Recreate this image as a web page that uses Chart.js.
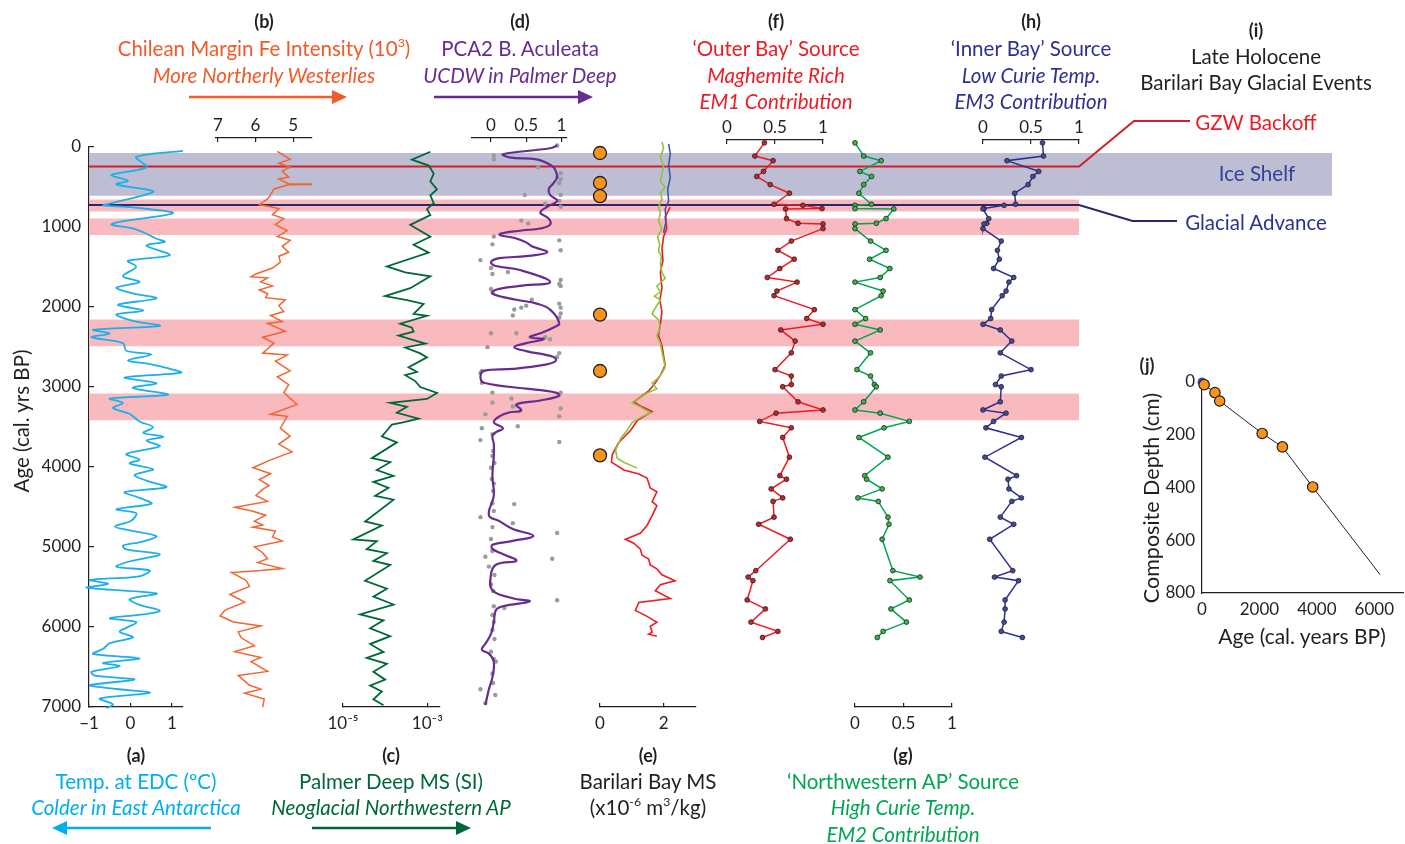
<!DOCTYPE html>
<html lang="en">
<head>
<meta charset="UTF-8">
<title>Late Holocene records - Barilari Bay</title>
<script src="https://cdn.jsdelivr.net/npm/chart.js"></script>
<style>
  html, body { margin: 0; padding: 0; background: #fff; overflow: hidden; }
  #page { position: relative; width: 1405px; height: 844px; font-family: Lato, "Open Sans", sans-serif; color: #231f20; }
  #page canvas { position: absolute; }
  #page svg { position: absolute; left: 0; top: 0; z-index: 3; }
  .t { position: absolute; z-index: 3; transform: translate(-50%, -50%); white-space: nowrap; font-size: 20.5px; line-height: 1; }
  .t.b { font-weight: bold; font-size: 18px; }
  .t.i { font-style: italic; }
  .t.r { transform: translate(-50%, -50%) rotate(-90deg); }
  sup { font-size: 0.6em; line-height: 0; vertical-align: 0.7em; }
</style>
</head>
<body>
<div id="page">
  <svg width="1405" height="844">
    <line x1="189" y1="97" x2="334" y2="97" stroke="#f15a29" stroke-width="2.5"/>
    <polygon points="347,97 332,90 332,104" fill="#f15a29"/>
    <line x1="434" y1="97" x2="580" y2="97" stroke="#662d91" stroke-width="2.5"/>
    <polygon points="593,97 578,90 578,104" fill="#662d91"/>
    <line x1="211" y1="828" x2="65" y2="828" stroke="#00aeef" stroke-width="2.5"/>
    <polygon points="52,828 67,821 67,835" fill="#00aeef"/>
    <line x1="312" y1="828" x2="458" y2="828" stroke="#006838" stroke-width="2.5"/>
    <polygon points="471,828 456,821 456,835" fill="#006838"/>
  </svg>

  <div class="t b" style="left:264px;top:21px">(b)</div>
  <div class="t" style="left:264px;top:48px;color:#f15a29">Chilean Margin Fe Intensity (10<sup>3</sup>)</div>
  <div class="t i" style="left:264px;top:75px;color:#f15a29">More Northerly Westerlies</div>

  <div class="t b" style="left:520px;top:21px">(d)</div>
  <div class="t" style="left:520px;top:48px;color:#662d91">PCA2 B. Aculeata</div>
  <div class="t i" style="left:520px;top:75px;color:#662d91">UCDW in Palmer Deep</div>

  <div class="t b" style="left:776px;top:21px">(f)</div>
  <div class="t" style="left:776px;top:48px;color:#ed1c24">‘Outer Bay’ Source</div>
  <div class="t i" style="left:776px;top:75px;color:#ed1c24">Maghemite Rich</div>
  <div class="t i" style="left:776px;top:101px;color:#ed1c24">EM1 Contribution</div>

  <div class="t b" style="left:1031px;top:21px">(h)</div>
  <div class="t" style="left:1031px;top:48px;color:#2e3192">‘Inner Bay’ Source</div>
  <div class="t i" style="left:1031px;top:75px;color:#2e3192">Low Curie Temp.</div>
  <div class="t i" style="left:1031px;top:101px;color:#2e3192">EM3 Contribution</div>

  <div class="t b" style="left:1256px;top:30px">(i)</div>
  <div class="t" style="left:1256px;top:56px">Late Holocene</div>
  <div class="t" style="left:1256px;top:82px">Barilari Bay Glacial Events</div>
  <div class="t" style="left:1256px;top:122px;color:#ed1c24">GZW Backoff</div>
  <div class="t" style="left:1257px;top:173px;color:#34409a">Ice Shelf</div>
  <div class="t" style="left:1256px;top:222px;color:#2e3192">Glacial Advance</div>

  <div class="t b" style="left:136px;top:755px">(a)</div>
  <div class="t" style="left:136px;top:781px;color:#00aeef">Temp. at EDC (ºC)</div>
  <div class="t i" style="left:136px;top:807px;color:#00aeef">Colder in East Antarctica</div>

  <div class="t b" style="left:391px;top:755px">(c)</div>
  <div class="t" style="left:391px;top:781px;color:#006838">Palmer Deep MS (SI)</div>
  <div class="t i" style="left:391px;top:807px;color:#006838">Neoglacial Northwestern AP</div>

  <div class="t b" style="left:648px;top:755px">(e)</div>
  <div class="t" style="left:648px;top:781px">Barilari Bay MS</div>
  <div class="t" style="left:648px;top:807px">(x10<sup>-6</sup> m<sup>3</sup>/kg)</div>

  <div class="t b" style="left:903px;top:755px">(g)</div>
  <div class="t" style="left:903px;top:781px;color:#00a651">‘Northwestern AP’ Source</div>
  <div class="t i" style="left:903px;top:807px;color:#00a651">High Curie Temp.</div>
  <div class="t i" style="left:903px;top:834px;color:#00a651">EM2 Contribution</div>

  <div class="t r" style="left:21px;top:421px">Age (cal. yrs BP)</div>

  <div class="t b" style="left:1147px;top:365px">(j)</div>
  <div class="t r" style="left:1152px;top:498px;font-size:21.5px">Composite Depth (cm)</div>
  <div class="t" style="left:1302px;top:635px;font-size:21px">Age (cal. years BP)</div>
</div>

<script>
// ---------- values (ages in cal. yrs BP) ----------

// (a) EDC temperature
const tempAge = [48,124,253,349,420,468,554,621,717,731,755,827,936,970,1018,1065,1147,1185,1233,1352,
  1424,1496,1615,1687,1758,1830,1892,1973,2045,2093,2174,2236,2284,2332,2379,2451,2547,2594,2666,2714,
  2762,2819,2881,2953,3010,3096,3144,3201,3263,3335,3431,3502,3574,3622,3669,3741,3837,3908,3956,4028,
  4100,4171,4252,4314,4386,4458,4529,4577,4673,4744,4792,4864,4936,4983,5031,5093,5175,5246,5294,5366,
  5413,5461,5509,5581,5652,5724,5796,5843,5891,5939,6011,6058,6130,6202,6273,6336,6393,6450,6489,6560,
  6608,6656,6728,6775,6823,6895,6966,7014];
const tempC = [1.27,0.14,0.39,-0.46,-0.06,-0.34,0.55,0.18,-0.58,-0.66,0.06,1.03,-0.26,-0.46,0.06,0.31,0.63,0.83,0.39,0.95,
  -0.06,0.14,-0.18,0.22,-0.34,0.06,0.63,-0.30,0.31,-0.34,0.06,0.71,-0.90,-0.50,-0.94,-0.18,-0.10,0.51,-0.06,0.47,
  0.87,1.23,-0.14,0.63,0.06,0.91,-0.50,-0.18,-0.42,-0.02,0.22,0.55,0.31,0.79,0.39,0.71,-0.10,0.22,-0.02,0.55,
  0.10,0.39,0.87,-0.14,0.22,0.51,-0.34,0.14,0.02,-0.38,-0.02,0.63,0.27,-0.18,-0.10,0.71,0.02,-0.34,0.47,0.22,
  -0.98,-0.54,-1.06,0.63,-0.02,0.22,0.71,0.31,-0.50,0.14,-0.10,-0.26,0.06,-0.50,-0.66,-0.90,0.22,-0.66,-0.26,-0.94,
  -0.86,0.10,-0.98,-0.34,0.47,-0.74,-0.42,-0.58];

// (b) Chilean margin Fe intensity (x10^3)
const feAge = [55,154,203,253,302,376,401,450,458,463,468,473,525,599,648,722,747,772,846,895,
  970,1044,1118,1167,1241,1315,1365,1439,1513,1587,1622,1637,1686,1736,1785,1834,1884,1909,1983,2057,
  2106,2181,2205,2304,2378,2452,2576,2601,2675,2798,2873,2971,3070,3219,3342,3367,3515,3614,3713,3812,
  3911,4009,4084,4158,4232,4281,4356,4430,4504,4553,4603,4677,4726,4751,4800,4874,4924,4998,5072,5146,
  5196,5270,5295,5319,5418,5492,5591,5690,5789,5863,5937,5987,6061,6135,6234,6308,6382,6432,6555,6605,
  6728,6777,6827,6901,7000];
const feInt = [5.42,5.08,5.38,5.08,5.29,5.12,5.38,5.16,5.14,4.52,4.52,5.12,5.51,5.60,5.68,5.90,5.60,5.38,5.55,5.25,
  5.47,5.16,5.42,5.08,5.29,5.12,5.38,5.34,5.55,5.99,6.12,5.68,5.86,5.55,5.90,5.68,5.73,5.21,5.38,5.25,
  5.60,5.29,5.68,5.21,5.81,5.51,5.81,5.16,5.47,5.08,5.42,5.12,5.25,4.90,5.60,5.16,5.34,5.08,5.38,5.03,
  5.60,6.07,5.60,5.90,5.64,5.81,5.99,5.68,6.55,6.07,5.73,6.03,5.81,6.07,5.47,5.55,5.29,6.03,5.81,5.68,
  5.94,5.29,5.86,6.64,6.25,6.16,6.68,6.29,6.81,6.94,6.59,5.86,6.46,6.38,6.03,6.55,5.86,6.12,5.68,6.46,
  6.16,5.86,6.29,5.77,5.81];

// (c) Palmer Deep magnetic susceptibility (SI)
const msAge = [59,158,232,331,430,529,603,702,776,850,974,1048,1122,1221,1320,1493,1567,1616,1691,1765,
  1864,1913,1962,2086,2111,2209,2259,2308,2358,2457,2506,2580,2630,2753,2813,2852,2926,3000,3075,3149,
  3198,3248,3322,3396,3445,3470,3544,3618,3692,3890,3940,4038,4112,4187,4261,4360,4409,4681,4731,4904,
  4928,5027,5077,5175,5225,5423,5521,5620,5719,5843,5917,6016,6115,6213,6312,6386,6461,6560,6658,6732,
  6806,6905,6979];
const msPD = [1.18e-3,4.32e-4,1.08e-3,1.42e-3,1.18e-3,1.70e-3,1.18e-3,1.42e-3,9.82e-4,1.18e-3,
  3.94e-4,6.81e-4,1.18e-3,4.73e-4,1.08e-3,1.10e-4,2.99e-4,1.18e-3,6.81e-4,3.94e-4,
  1.00e-4,3.28e-4,8.18e-4,4.73e-4,9.82e-4,2.28e-4,4.32e-4,4.73e-4,2.08e-4,8.96e-4,
  2.99e-4,6.81e-4,9.82e-4,3.59e-4,5.68e-4,2.99e-4,5.18e-4,6.81e-4,1.70e-3,9.82e-4,
  1.32e-4,3.28e-4,1.90e-4,6.22e-4,2.49e-4,1.44e-4,1.10e-4,8.34e-5,1.90e-4,4.82e-5,
  1.32e-4,6.34e-5,1.58e-4,5.27e-5,1.20e-4,5.78e-5,1.58e-4,3.34e-5,8.34e-5,1.76e-5,
  6.34e-5,3.66e-5,1.10e-4,5.27e-5,1.32e-4,3.34e-5,1.10e-4,5.27e-5,1.58e-4,2.54e-5,
  9.13e-5,4.40e-5,1.32e-4,4.40e-5,9.13e-5,3.66e-5,1.10e-4,5.27e-5,1.00e-4,4.40e-5,
  8.34e-5,5.27e-5,9.13e-5];

// (d) PCA2 B. aculeata: smoothed curve and samples
const pcaAge = [-19,16,90,129,154,203,253,302,376,450,525,599,673,747,821,895,970,1019,1044,1093,
  1143,1192,1241,1315,1365,1390,1439,1488,1538,1686,1736,1785,1834,1909,1958,2032,2205,2255,2329,2378,
  2403,2452,2502,2551,2625,2675,2724,2774,2798,2873,2947,3021,3070,3110,3169,3219,3293,3318,3367,3441,
  3515,3565,3614,3713,3861,4108,4356,4603,4677,4776,4860,4924,4973,5023,5097,5171,5221,5344,5542,5641,
  5680,5740,5789,5937,6086,6209,6283,6333,6432,6629,6778,6976];
const pca2 = [0.94,0.84,0.17,0.26,0.65,0.80,0.89,0.92,0.94,0.89,0.82,0.84,0.94,0.80,0.70,0.82,0.84,0.70,0.43,0.12,
  0.36,0.50,0.58,0.80,0.50,0.12,0.00,0.07,0.41,0.84,0.41,0.07,0.02,0.36,0.65,0.84,0.97,0.89,0.70,0.55,
  0.75,0.50,0.33,0.50,0.89,0.92,0.75,0.31,-0.10,-0.15,-0.10,0.50,0.92,0.97,0.70,0.36,0.43,0.26,0.12,0.04,
  0.17,0.07,0.02,0.04,0.04,0.02,0.04,-0.03,0.12,0.31,0.60,0.31,0.02,0.02,0.19,0.36,0.07,0.00,0.02,0.31,
  0.55,0.17,0.07,0.04,0.00,-0.08,-0.13,-0.03,0.04,0.02,-0.03,-0.08];
const pcaDotAge = [-19,105,154,253,327,376,401,450,599,599,673,708,747,920,955,1118,1217,1167,1291,1414,
  1513,1587,1563,1662,1711,1736,1775,1810,1909,1983,2008,2032,2106,1958,2008,2082,2131,2329,2329,2502,
  2378,2403,2576,2625,2798,2823,2947,3070,3194,3342,3144,3243,3490,3070,3268,3367,3515,3664,3589,3688,
  3861,4009,4207,4454,4464,4627,4751,4825,4702,5122,5146,5245,5468,5665,5740,5764,5937,6036,6308,6432,
  6580,6778,6951,3800,3950,4150,4300,4550,4900,5050,5350,5550,5850,6150,6400,6700,6850];
const pcaDot = [0.94,0.04,0.04,0.67,0.99,0.94,0.99,0.97,0.48,0.99,0.97,0.77,0.99,0.43,0.53,0.04,0.02,0.97,0.99,-0.15,
  0.00,0.02,0.24,0.99,0.97,0.99,0.00,0.02,0.58,0.50,0.43,0.33,0.31,0.97,0.99,0.99,0.97,0.00,0.36,-0.05,
  0.77,0.84,0.97,0.94,-0.13,-0.15,-0.13,0.02,0.02,-0.08,0.29,0.31,0.38,0.99,0.99,0.97,-0.13,-0.15,0.02,0.97,
  0.02,0.00,0.04,0.02,0.33,-0.15,0.02,0.94,0.31,-0.08,0.87,-0.03,0.00,0.94,0.04,0.19,0.04,0.02,0.00,0.07,
  0.02,-0.15,-0.08,0.03,0.05,0.01,0.03,0.04,0.00,0.02,0.05,0.03,0.02,0.05,0.04,0.03,0.06];

// (e) Barilari Bay MS (x10^-6 m3/kg), three cores, and radiocarbon dates
const bbBlueAge = [-39,84,232,381,529,677,776,924,1073];
const bbBlue = [2.16,2.21,2.16,2.21,2.13,2.16,2.05,2.08,2.00];
const bbGreenAge = [-64,10,134,232,331,430,504,578,652,751,826,924,1023,1122,1221,1295,1369,1468,1567,1641,
  1740,1814,1864,1913,2012,2086,2160,2259,2358,2457,2556,2654,2753,2827,2902,2951,3025,3075,3174,3198,
  3248,3322,3371,3445,3544,3643,3791,3890,3940,4014];
const bbGreen = [1.95,2.00,1.90,2.00,1.95,1.90,2.05,1.90,1.95,1.84,1.90,1.84,1.95,1.81,1.88,1.84,1.93,1.90,1.95,2.05,
  1.79,1.90,1.71,1.90,1.74,1.64,1.84,1.90,1.79,1.90,1.95,2.00,2.05,1.95,1.79,1.64,1.79,1.48,1.11,1.01,
  1.27,1.58,1.32,1.01,0.85,0.65,0.49,0.54,0.75,1.17];
const bbRedAge = [751,875,1023,1122,1270,1419,1567,1765,1913,2061,2209,2358,2481,2605,2729,2852,2951,3050,3188,3248,
  3307,3346,3421,3544,3692,3841,3940,4038,4088,4137,4261,4310,4434,4483,4607,4731,4829,4904,4953,5027,
  5101,5151,5225,5274,5348,5423,5472,5546,5645,5694,5793,5867,5917,5941,5991,6065,6090,6115];
const bbRed = [2.21,2.05,2.10,2.00,1.95,1.98,1.90,1.95,1.88,1.95,1.90,1.84,1.95,2.00,2.05,1.90,1.74,1.53,1.06,1.32,
  1.64,1.48,1.17,0.96,0.59,0.39,0.36,0.75,1.22,1.48,1.58,1.79,1.64,1.79,1.64,1.48,1.27,0.80,1.06,1.27,
  1.32,1.53,1.58,1.79,1.95,2.36,1.90,1.74,2.21,1.22,1.11,1.48,1.69,1.79,1.58,1.64,1.53,1.79];
const dateAge = [75,450,615,2095,2800,3855];
const dateMark = [0,0,0,0,0,0];
const dateDepth = [10,40,72,195,246,398];

// (f)(g)(h) end-member contributions, one sample set
const emAge = [-52,113,171,305,368,470,578,716,729,770,774,895,953,962,1020,1176,1292,1403,1519,1631,
  1689,1801,1859,2033,2144,2216,2287,2426,2573,2783,2863,2970,2997,3185,3287,3327,3430,3510,3631,3877,
  4109,4153,4274,4386,4430,4627,4716,4903,5296,5376,5421,5662,5774,5939,6055,6131];
const em1 = [0.39,0.29,0.48,0.38,0.31,0.45,0.65,0.49,0.79,0.99,0.61,0.62,0.74,1.00,1.00,0.67,0.53,0.70,0.55,0.42,
  0.73,0.52,0.49,0.91,0.83,1.00,0.56,0.71,0.67,0.50,0.67,0.67,0.58,0.74,1.00,0.51,0.34,0.67,0.58,0.65,
  0.55,0.62,0.46,0.58,0.48,0.49,0.33,0.66,0.30,0.22,0.27,0.21,0.40,0.25,0.53,0.37];
const em2 = [0.00,0.09,0.27,0.05,0.17,0.09,0.04,0.17,0.00,0.00,0.40,0.32,0.22,0.00,0.00,0.16,0.32,0.15,0.36,0.26,
  0.00,0.29,0.27,0.00,0.11,0.00,0.26,0.00,0.16,0.02,0.16,0.20,0.22,0.09,0.00,0.26,0.56,0.30,0.04,0.34,
  0.10,0.12,0.28,0.03,0.24,0.34,0.35,0.28,0.39,0.67,0.36,0.56,0.37,0.53,0.29,0.23];
const em3 = [0.62,0.63,0.25,0.58,0.52,0.47,0.33,0.34,0.22,0.01,0.00,0.06,0.04,0.01,0.00,0.19,0.15,0.17,0.11,0.32,
  0.27,0.24,0.20,0.09,0.08,0.00,0.18,0.30,0.18,0.50,0.19,0.13,0.19,0.18,0.00,0.24,0.11,0.03,0.40,0.02,
  0.35,0.26,0.27,0.40,0.30,0.18,0.32,0.07,0.31,0.12,0.37,0.23,0.23,0.22,0.19,0.41];

// (i) glacial events
const iceShelf = [75, 610];
const pinkBands = [[655, 805], [895, 1100], [2155, 2490], [3080, 3415]];
const gzwAge = 245, advanceAge = 725;

// (j) age model line
const modelAge = [0, 75, 450, 615, 2095, 2800, 3855, 6200];
const modelDepth = [0, 10, 40, 72, 195, 246, 398, 730];

// tick values
const ageTicks = [0, 1000, 2000, 3000, 4000, 5000, 6000, 7000];
const tempTicks = [-1, 0, 1];
const feTicks = [7, 6, 5];
const msTicks = [1e-5, 1e-3];
const unitTicks = [0, 0.5, 1];
const bbTicks = [0, 2];
const jAgeTicks = [0, 2000, 4000, 6000];
const jDepthTicks = [0, 200, 400, 600, 800];

// ---------- layout ----------
const INK = '#231f20';
const FONT = 'Lato';
const PX0 = 147, PX1 = 707;           // page y of age 0 and age 7000
const ageAt = px => (px - PX0) * 7000 / (PX1 - PX0);
const PAD = 16, AXH = 26;
const page = document.getElementById('page');

const fmtNum = v => (v < 0 ? '\u2212' + Math.abs(v) : String(v));
const SUP = { '-': '\u207b', '0': '\u2070', '1': '\u00b9', '2': '\u00b2', '3': '\u00b3', '4': '\u2074', '5': '\u2075' };
const fmtPow = v => '10' + String(Math.round(Math.log10(v))).split('').map(ch => SUP[ch]).join('');

function addCanvas(left, top, width, height) {
    var c = document.createElement('canvas');
    c.width = width; c.height = height;
    c.style.left = left + 'px'; c.style.top = top + 'px';
    c.style.width = width + 'px'; c.style.height = height + 'px';
    page.appendChild(c);
    return c.getContext('2d');
}

function pts(xs, ys) {
    return xs.map(function(x, i) { return { x: x, y: ys[i] }; });
}

function trace(xs, ys, color, width, more) {
    return Object.assign({
        data: pts(xs, ys), showLine: true, borderColor: color, backgroundColor: color,
        borderWidth: width, pointRadius: 0, tension: 0, clip: false
    }, more || {});
}

function dots(xs, ys, fill, radius, more) {
    return Object.assign({
        data: pts(xs, ys), showLine: false, pointRadius: radius, pointBackgroundColor: fill,
        pointBorderColor: fill, pointBorderWidth: 0, clip: false
    }, more || {});
}

const quiet = { legend: { display: false }, tooltip: { enabled: false } };

// one stacked panel: own x axis, shared age axis (hidden)
function panel(p) {
    var onTop = p.side === 'top';
    var ctx = addCanvas(p.left - PAD, p.top - PAD - (onTop ? AXH : 0),
        p.right - p.left + 2 * PAD, p.bottom - p.top + AXH + 2 * PAD);
    return new Chart(ctx, {
        type: 'scatter',
        data: { datasets: p.datasets },
        options: {
            responsive: false, animation: false, events: [],
            layout: { autoPadding: false, padding: PAD },
            plugins: quiet,
            scales: {
                x: {
                    type: p.type || 'linear', position: p.side, min: p.min, max: p.max, reverse: !!p.reverse,
                    border: { color: INK, width: 1.2 },
                    grid: { drawOnChartArea: false, color: INK, lineWidth: 1.2, tickLength: -4 },
                    ticks: {
                        color: INK, font: { family: FONT, size: 17 }, padding: onTop ? 6 : 10,
                        autoSkip: false, maxRotation: 0, callback: p.fmt || fmtNum
                    },
                    afterBuildTicks: function(s) { s.ticks = p.ticks.map(function(v) { return { value: v }; }); },
                    afterFit: function(s) { s.height = AXH; s.paddingLeft = 0; s.paddingRight = 0; }
                },
                y: { type: 'linear', display: false, reverse: true, min: ageAt(p.top), max: ageAt(p.bottom) }
            }
        }
    });
}

// ---------- background: age axis, event bands and callouts ----------
const PINK_END = 79.65;   // bands stop under panel (h); ice shelf runs to the label column
function hband(range, xEnd, color) {
    return {
        data: [{ x: 0, y: range[0] }, { x: xEnd, y: range[0] }], fill: { value: range[1] },
        backgroundColor: color, borderColor: 'rgba(0,0,0,0)', borderWidth: 0, pointRadius: 0, clip: false
    };
}
const gzwLine = {
    data: [{ x: 0, y: gzwAge }, { x: PINK_END, y: gzwAge }, { x: 84.07, y: -325 }, { x: 88.58, y: -325 }],
    borderColor: '#d0202e', borderWidth: 2, pointRadius: 0, fill: false, clip: false
};
const advanceLine = {
    data: [{ x: 0, y: advanceAge }, { x: PINK_END, y: advanceAge }, { x: 83.95, y: 925 }, { x: 87.53, y: 925 }],
    borderColor: '#28286c', borderWidth: 2, pointRadius: 0, fill: false, clip: false
};

new Chart(addCanvas(0, 0, 1405, 844), {
    type: 'line',
    data: {
        datasets: [gzwLine, advanceLine]
            .concat(pinkBands.map(function(b) { return hband(b, PINK_END, '#f8b9bf'); }))
            .concat([hband(iceShelf, 100, '#bdbdd3')])
    },
    options: {
        responsive: false, animation: false, events: [],
        layout: { autoPadding: false, padding: { left: 0, top: PX0, right: 1405 - 1332, bottom: 844 - PX1 } },
        plugins: quiet,
        scales: {
            x: { type: 'linear', min: 0, max: 100, display: false },
            y: {
                type: 'linear', position: 'left', reverse: true, min: 0, max: 7000,
                border: { color: INK, width: 1.2 },
                grid: { drawOnChartArea: false, color: INK, lineWidth: 1.2, tickLength: -5 },
                ticks: { color: INK, font: { family: FONT, size: 17 }, padding: 13, callback: function(v) { return String(v); } },
                afterBuildTicks: function(s) { s.ticks = ageTicks.map(function(v) { return { value: v }; }); },
                afterFit: function(s) { s.width = 89; s.paddingTop = 0; s.paddingBottom = 0; }
            }
        }
    }
});

// ---------- panels ----------
panel({ left: 89, right: 183, top: 120, bottom: 707, side: 'bottom', min: -1, max: 1.27, ticks: tempTicks,
    datasets: [trace(tempC, tempAge, '#1cafea', 1.8, { tension: 0.3 })] });

panel({ left: 216, right: 312, top: 138, bottom: 720, side: 'top', min: 4.5, max: 7.05, reverse: true, ticks: feTicks,
    datasets: [trace(feInt, feAge, '#f26531', 1.5)] });

panel({ left: 343, right: 440, top: 120, bottom: 707, side: 'bottom', type: 'logarithmic', min: 1e-5, max: 2e-3,
    ticks: msTicks, fmt: fmtPow,
    datasets: [trace(msPD, msAge, '#006838', 1.8)] });

panel({ left: 472, right: 567, top: 138, bottom: 720, side: 'top', min: -0.27, max: 1.08, ticks: unitTicks,
    datasets: [
        trace(pca2, pcaAge, '#662d91', 2.2, { tension: 0.4 }),
        dots(pcaDot, pcaDotAge, '#9b9b9b', 2.2)
    ] });

panel({ left: 600, right: 696, top: 120, bottom: 707, side: 'bottom', min: 0, max: 3.02, ticks: bbTicks,
    datasets: [
        dots(dateMark, dateAge, '#f7941d', 6.5, { pointBorderColor: INK, pointBorderWidth: 1.3 }),
        trace(bbBlue, bbBlueAge, '#3953a4', 1.5),
        trace(bbGreen, bbGreenAge, '#8cc63f', 1.6),
        trace(bbRed, bbRedAge, '#ed1c24', 1.6)
    ] });

const emDot = { pointRadius: 2.4, pointBorderColor: INK, pointBorderWidth: 0.8 };
panel({ left: 727, right: 823, top: 140, bottom: 720, side: 'top', min: 0, max: 1, ticks: unitTicks,
    datasets: [trace(em1, emAge, '#ed1c24', 1.5, Object.assign({ pointBackgroundColor: '#c1272d' }, emDot))] });

panel({ left: 855, right: 952, top: 120, bottom: 707, side: 'bottom', min: 0, max: 1, ticks: unitTicks,
    datasets: [trace(em2, emAge, '#00a651', 1.5, Object.assign({ pointBackgroundColor: '#39b54a' }, emDot))] });

panel({ left: 983, right: 1079, top: 140, bottom: 720, side: 'top', min: 0, max: 1, ticks: unitTicks,
    datasets: [trace(em3, emAge, '#2e3192', 1.5, Object.assign({ pointBackgroundColor: '#3f4ba0' }, emDot))] });

// ---------- (j) age-depth model ----------
const JL = 1202, JR = 1403, JT = 382, JB = 593, JYW = 46;
new Chart(addCanvas(JL - JYW - PAD, JT - PAD, JR - JL + JYW + 2 * PAD, JB - JT + AXH + 2 * PAD), {
    type: 'scatter',
    data: {
        datasets: [
            dots(dateAge, dateDepth, '#f7941d', 5.2, { pointBorderColor: INK, pointBorderWidth: 1.2 }),
            dots([0], [0], '#3953a4', 4.5),
            trace(modelAge, modelDepth, INK, 1)
        ]
    },
    options: {
        responsive: false, animation: false, events: [],
        layout: { autoPadding: false, padding: PAD },
        plugins: quiet,
        scales: {
            x: {
                type: 'linear', min: 0, max: 7000,
                border: { color: INK, width: 1.2 }, grid: { display: false, drawTicks: false },
                ticks: { color: INK, font: { family: FONT, size: 17 }, padding: 6, maxRotation: 0, callback: function(v) { return String(v); } },
                afterBuildTicks: function(s) { s.ticks = jAgeTicks.map(function(v) { return { value: v }; }); },
                afterFit: function(s) { s.height = AXH; s.paddingLeft = 0; s.paddingRight = 0; }
            },
            y: {
                type: 'linear', reverse: true, min: 0, max: 800,
                border: { color: INK, width: 1.2 }, grid: { display: false, drawTicks: false },
                ticks: { color: INK, font: { family: FONT, size: 17 }, padding: 7, callback: function(v) { return String(v); } },
                afterBuildTicks: function(s) { s.ticks = jDepthTicks.map(function(v) { return { value: v }; }); },
                afterFit: function(s) { s.width = JYW; s.paddingTop = 0; s.paddingBottom = 0; }
            }
        }
    }
});
</script>
</body>
</html>
